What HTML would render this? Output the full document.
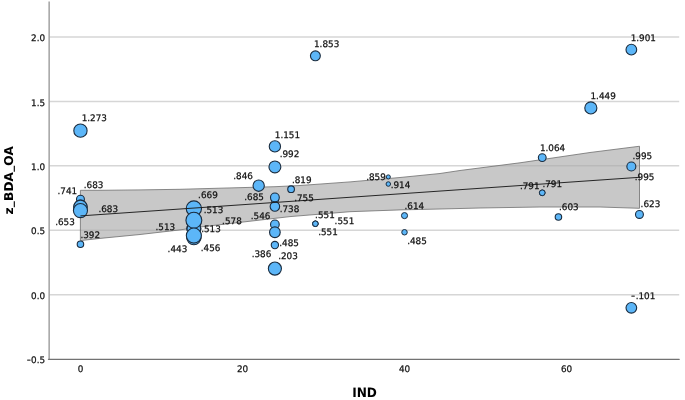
<!DOCTYPE html>
<html><head><meta charset="utf-8"><title>Scatter</title>
<style>html,body{margin:0;padding:0;background:#fff}svg{display:block}text{font-family:"DejaVu Sans","Liberation Sans",sans-serif;font-size:9.0px;fill:#111;stroke:#111;stroke-width:0.25px}</style></head><body>
<svg width="685" height="400" viewBox="0 0 685 400" text-rendering="geometricPrecision">
<rect width="685" height="400" fill="#fff"/>
<line x1="49" x2="679.2" y1="36.90" y2="36.90" stroke="#d6d6d6" stroke-width="1.5"/>
<line x1="49" x2="679.2" y1="101.38" y2="101.38" stroke="#d6d6d6" stroke-width="1.5"/>
<line x1="49" x2="679.2" y1="165.85" y2="165.85" stroke="#d6d6d6" stroke-width="1.5"/>
<line x1="49" x2="679.2" y1="230.33" y2="230.33" stroke="#d6d6d6" stroke-width="1.5"/>
<line x1="49" x2="679.2" y1="294.80" y2="294.80" stroke="#d6d6d6" stroke-width="1.5"/>
<polygon points="80.40,190.30 100.00,190.30 140.00,189.90 180.00,189.30 220.00,188.20 275.00,186.70 300.00,185.50 350.00,181.90 400.00,177.50 440.00,173.50 460.00,170.50 520.00,162.80 590.00,152.50 639.50,146.25 639.50,208.30 600.00,207.00 540.00,207.00 480.00,208.00 440.00,209.00 400.00,209.90 350.00,211.70 290.00,216.60 200.00,227.00 180.00,229.90 140.00,234.50 100.00,238.40 80.40,240.60" fill="#aaaaaa" fill-opacity="0.645" stroke="#6e6e6e" stroke-width="0.8"/>
<line x1="49.15" x2="49.15" y1="1.4" y2="359.3" stroke="#a2a2a2" stroke-width="1.5"/>
<line x1="48.5" x2="679.2" y1="359.3" y2="359.3" stroke="#727272" stroke-width="1.35" stroke-linecap="round"/>
<circle cx="80.45" cy="130.65" r="6.65" fill="#5cb6f8" stroke="#1a2c3f" stroke-width="1.10"/>
<circle cx="80.45" cy="199.25" r="3.95" fill="#5cb6f8" stroke="#1a2c3f" stroke-width="1.10"/>
<circle cx="80.45" cy="206.73" r="6.65" fill="#5cb6f8" stroke="#1a2c3f" stroke-width="1.10"/>
<circle cx="80.45" cy="206.73" r="6.65" fill="#5cb6f8" stroke="#1a2c3f" stroke-width="1.10"/>
<circle cx="80.45" cy="210.60" r="7.05" fill="#5cb6f8" stroke="#1a2c3f" stroke-width="1.10"/>
<circle cx="80.45" cy="244.25" r="3.25" fill="#5cb6f8" stroke="#1a2c3f" stroke-width="1.10"/>
<circle cx="193.87" cy="228.65" r="6.85" fill="#5cb6f8" stroke="#1a2c3f" stroke-width="1.10"/>
<circle cx="193.87" cy="228.65" r="6.85" fill="#5cb6f8" stroke="#1a2c3f" stroke-width="1.10"/>
<circle cx="193.87" cy="228.65" r="6.85" fill="#5cb6f8" stroke="#1a2c3f" stroke-width="1.10"/>
<circle cx="193.87" cy="237.55" r="7.15" fill="#5cb6f8" stroke="#1a2c3f" stroke-width="1.10"/>
<circle cx="193.87" cy="208.53" r="7.65" fill="#5cb6f8" stroke="#1a2c3f" stroke-width="1.10"/>
<circle cx="193.87" cy="220.27" r="7.95" fill="#5cb6f8" stroke="#1a2c3f" stroke-width="1.10"/>
<circle cx="193.87" cy="235.61" r="7.55" fill="#5cb6f8" stroke="#1a2c3f" stroke-width="1.10"/>
<circle cx="258.68" cy="185.71" r="5.65" fill="#5cb6f8" stroke="#1a2c3f" stroke-width="1.10"/>
<circle cx="274.89" cy="146.38" r="5.65" fill="#5cb6f8" stroke="#1a2c3f" stroke-width="1.10"/>
<circle cx="274.89" cy="166.88" r="5.95" fill="#5cb6f8" stroke="#1a2c3f" stroke-width="1.10"/>
<circle cx="274.89" cy="199.63" r="3.65" fill="#5cb6f8" stroke="#1a2c3f" stroke-width="1.10"/>
<circle cx="274.89" cy="197.44" r="4.40" fill="#5cb6f8" stroke="#1a2c3f" stroke-width="1.10"/>
<circle cx="274.89" cy="206.47" r="4.75" fill="#5cb6f8" stroke="#1a2c3f" stroke-width="1.10"/>
<circle cx="274.89" cy="224.39" r="4.35" fill="#5cb6f8" stroke="#1a2c3f" stroke-width="1.10"/>
<circle cx="274.89" cy="232.26" r="5.35" fill="#5cb6f8" stroke="#1a2c3f" stroke-width="1.10"/>
<circle cx="274.89" cy="245.03" r="3.65" fill="#5cb6f8" stroke="#1a2c3f" stroke-width="1.10"/>
<circle cx="274.89" cy="268.62" r="6.55" fill="#5cb6f8" stroke="#1a2c3f" stroke-width="1.10"/>
<circle cx="291.09" cy="189.19" r="3.35" fill="#5cb6f8" stroke="#1a2c3f" stroke-width="1.10"/>
<circle cx="315.39" cy="55.86" r="4.95" fill="#5cb6f8" stroke="#1a2c3f" stroke-width="1.10"/>
<circle cx="315.39" cy="223.75" r="2.75" fill="#5cb6f8" stroke="#1a2c3f" stroke-width="1.00"/>
<circle cx="315.39" cy="223.75" r="2.75" fill="#5cb6f8" stroke="#1a2c3f" stroke-width="1.00"/>
<circle cx="315.39" cy="223.75" r="2.75" fill="#5cb6f8" stroke="#1a2c3f" stroke-width="1.00"/>
<circle cx="388.31" cy="176.94" r="2.05" fill="#5cb6f8" stroke="#1a2c3f" stroke-width="1.00"/>
<circle cx="388.31" cy="184.03" r="2.25" fill="#5cb6f8" stroke="#1a2c3f" stroke-width="1.00"/>
<circle cx="404.51" cy="215.62" r="3.05" fill="#5cb6f8" stroke="#1a2c3f" stroke-width="1.00"/>
<circle cx="404.51" cy="232.26" r="2.75" fill="#5cb6f8" stroke="#1a2c3f" stroke-width="1.00"/>
<circle cx="542.24" cy="157.60" r="3.90" fill="#5cb6f8" stroke="#1a2c3f" stroke-width="1.10"/>
<circle cx="542.24" cy="192.80" r="2.85" fill="#5cb6f8" stroke="#1a2c3f" stroke-width="1.00"/>
<circle cx="542.24" cy="192.80" r="2.85" fill="#5cb6f8" stroke="#1a2c3f" stroke-width="1.00"/>
<circle cx="558.44" cy="217.04" r="3.25" fill="#5cb6f8" stroke="#1a2c3f" stroke-width="1.10"/>
<circle cx="590.84" cy="107.95" r="6.05" fill="#5cb6f8" stroke="#1a2c3f" stroke-width="1.10"/>
<circle cx="631.35" cy="49.67" r="5.35" fill="#5cb6f8" stroke="#1a2c3f" stroke-width="1.10"/>
<circle cx="631.35" cy="166.49" r="4.50" fill="#5cb6f8" stroke="#1a2c3f" stroke-width="1.10"/>
<circle cx="631.35" cy="307.82" r="5.35" fill="#5cb6f8" stroke="#1a2c3f" stroke-width="1.10"/>
<circle cx="639.45" cy="214.46" r="3.95" fill="#5cb6f8" stroke="#1a2c3f" stroke-width="1.10"/>
<line x1="80.4" y1="215.9" x2="639.5" y2="177.3" stroke="#1c1c1c" stroke-width="0.95"/>
<text transform="translate(81.65,121.00) scale(0.98,1)">1.273</text>
<text transform="translate(83.80,188.00) scale(0.98,1)">.683</text>
<text transform="translate(57.50,194.00) scale(0.98,1)">.741</text>
<text transform="translate(98.40,212.00) scale(0.98,1)">.683</text>
<text transform="translate(55.20,225.00) scale(0.98,1)">.653</text>
<text transform="translate(80.40,238.00) scale(0.98,1)">.392</text>
<text transform="translate(198.10,198.00) scale(0.98,1)">.669</text>
<text transform="translate(203.70,213.00) scale(0.98,1)">.513</text>
<text transform="translate(222.10,224.00) scale(0.98,1)">.578</text>
<text transform="translate(155.50,230.00) scale(0.98,1)">.513</text>
<text transform="translate(201.20,232.00) scale(0.98,1)">.513</text>
<text transform="translate(167.60,252.00) scale(0.98,1)">.443</text>
<text transform="translate(200.80,251.00) scale(0.98,1)">.456</text>
<text transform="translate(274.80,138.00) scale(0.98,1)">1.151</text>
<text transform="translate(279.70,157.00) scale(0.98,1)">.992</text>
<text transform="translate(233.30,179.00) scale(0.98,1)">.846</text>
<text transform="translate(291.90,183.00) scale(0.98,1)">.819</text>
<text transform="translate(244.30,200.00) scale(0.98,1)">.685</text>
<text transform="translate(294.20,201.00) scale(0.98,1)">.755</text>
<text transform="translate(279.70,212.00) scale(0.98,1)">.738</text>
<text transform="translate(250.80,219.00) scale(0.98,1)">.546</text>
<text transform="translate(315.10,218.00) scale(0.98,1)">.551</text>
<text transform="translate(334.60,224.00) scale(0.98,1)">.551</text>
<text transform="translate(318.20,235.00) scale(0.98,1)">.551</text>
<text transform="translate(279.30,246.00) scale(0.98,1)">.485</text>
<text transform="translate(251.70,257.00) scale(0.98,1)">.386</text>
<text transform="translate(278.20,259.00) scale(0.98,1)">.203</text>
<text transform="translate(314.00,47.00) scale(0.98,1)">1.853</text>
<text transform="translate(366.20,180.00) scale(0.98,1)">.859</text>
<text transform="translate(390.70,188.00) scale(0.98,1)">.914</text>
<text transform="translate(404.50,209.00) scale(0.98,1)">.614</text>
<text transform="translate(407.20,244.00) scale(0.98,1)">.485</text>
<text transform="translate(539.90,151.00) scale(0.98,1)">1.064</text>
<text transform="translate(519.90,189.00) scale(0.98,1)">.791</text>
<text transform="translate(542.40,187.00) scale(0.98,1)">.791</text>
<text transform="translate(559.00,210.00) scale(0.98,1)">.603</text>
<text transform="translate(590.50,99.00) scale(0.98,1)">1.449</text>
<text transform="translate(630.70,41.00) scale(0.98,1)">1.901</text>
<text transform="translate(632.50,159.00) scale(0.98,1)">.995</text>
<text transform="translate(634.80,180.00) scale(0.98,1)">.995</text>
<text transform="translate(640.60,207.00) scale(0.98,1)">.623</text>
<text transform="translate(635.70,299.00) scale(0.98,1)">.101</text>
<text transform="translate(45.1,41) scale(0.98,1)" text-anchor="end">2.0</text>
<text transform="translate(45.1,106) scale(0.98,1)" text-anchor="end">1.5</text>
<text transform="translate(45.1,170) scale(0.98,1)" text-anchor="end">1.0</text>
<text transform="translate(45.1,234) scale(0.98,1)" text-anchor="end">0.5</text>
<text transform="translate(45.1,299) scale(0.98,1)" text-anchor="end">0.0</text>
<text transform="translate(45.1,363) scale(0.98,1)" text-anchor="end">0.5</text>
<text transform="translate(80.45,372) scale(0.98,1)" text-anchor="middle">0</text>
<text transform="translate(242.48,372) scale(0.98,1)" text-anchor="middle">20</text>
<text transform="translate(404.51,372) scale(0.98,1)" text-anchor="middle">40</text>
<text transform="translate(566.54,372) scale(0.98,1)" text-anchor="middle">60</text>
<text transform="translate(26.65,363.00) scale(0.55,1)">−</text>
<text transform="translate(630.95,299.00) scale(0.55,1)">−</text>
<text transform="translate(364.5,396.5) scale(0.94,1)" text-anchor="middle" style="font-family:'DejaVu Sans','Liberation Sans',sans-serif;font-weight:bold;font-size:12.9px;fill:#000;stroke:none">IND</text>
<text transform="translate(13,180.2) rotate(-90)" text-anchor="middle" style="font-family:'DejaVu Sans','Liberation Sans',sans-serif;font-weight:bold;font-size:12.2px;letter-spacing:0.1px;fill:#000;stroke:none">z<tspan dy="-1.3">_</tspan><tspan dy="1.3">BDA</tspan><tspan dy="-1.3">_</tspan><tspan dy="1.3">OA</tspan></text>
</svg></body></html>
